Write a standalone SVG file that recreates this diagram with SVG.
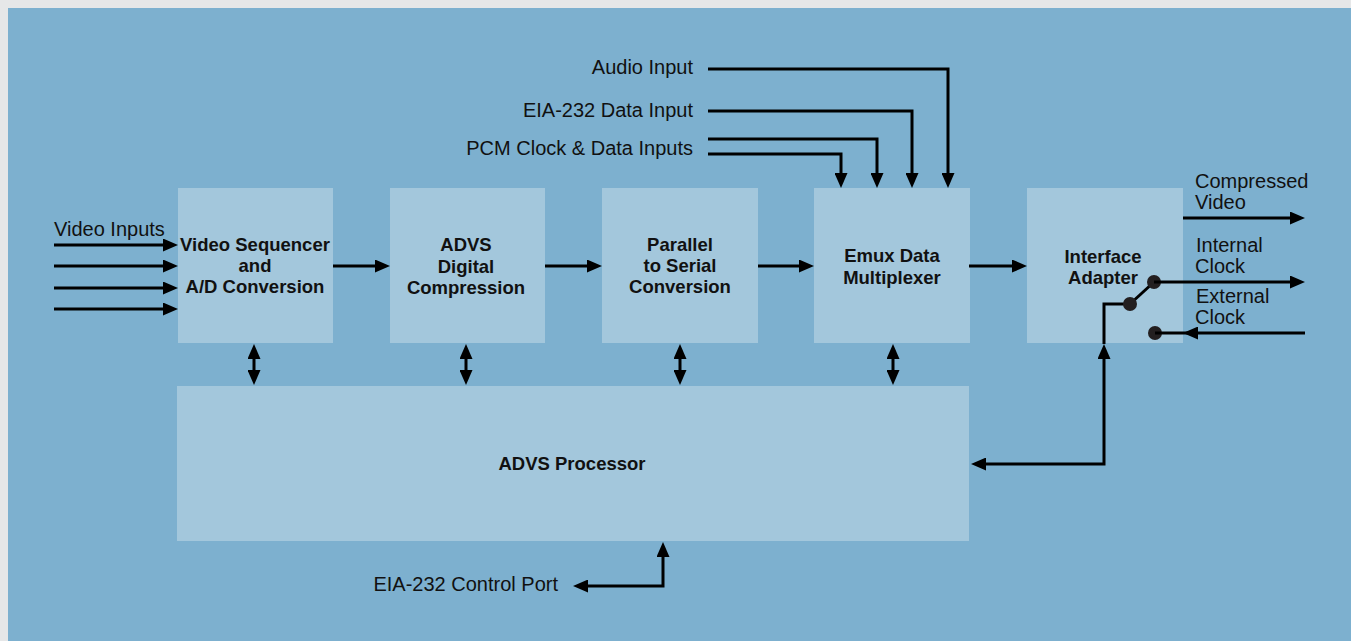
<svg xmlns="http://www.w3.org/2000/svg" width="1351" height="641" viewBox="0 0 1351 641">
<style>
.box{fill:#a3c7dc}
.lbl{font-family:"Liberation Sans",Arial,sans-serif;font-weight:bold;font-size:18.5px;fill:#111;text-anchor:middle}
.txt{font-family:"Liberation Sans",Arial,sans-serif;font-size:20px;fill:#111}
.end{text-anchor:end}
.ln{fill:none;stroke:#000;stroke-width:3}
.dot{fill:#231f20}
</style>
<defs>
<marker id="ah" viewBox="0 0 15 13" refX="6" refY="6.5" markerWidth="15" markerHeight="13" markerUnits="userSpaceOnUse" orient="auto-start-reverse">
<path d="M0,0 L15,6.5 L0,13 z" fill="#000"/>
</marker>
</defs>
<rect x="0" y="0" width="1351" height="641" fill="#e6e7e8"/>
<rect x="8" y="8" width="1343" height="633" fill="#7db0cf"/>

<g id="video-sequencer">
<rect class="box" x="178" y="188" width="155" height="155"/>
<text class="lbl" x="255" y="251">Video Sequencer</text>
<text class="lbl" x="255" y="272">and</text>
<text class="lbl" x="255" y="293">A/D Conversion</text>
</g>
<g id="advs-compression">
<rect class="box" x="390" y="188" width="155" height="155"/>
<text class="lbl" x="466" y="251">ADVS</text>
<text class="lbl" x="466" y="273">Digital</text>
<text class="lbl" x="466" y="294">Compression</text>
</g>
<g id="parallel-serial">
<rect class="box" x="602" y="188" width="156" height="155"/>
<text class="lbl" x="680" y="251">Parallel</text>
<text class="lbl" x="680" y="272">to Serial</text>
<text class="lbl" x="680" y="293">Conversion</text>
</g>
<g id="emux">
<rect class="box" x="814" y="188" width="156" height="155"/>
<text class="lbl" x="892" y="262">Emux Data</text>
<text class="lbl" x="892" y="284">Multiplexer</text>
</g>
<g id="interface-adapter">
<rect class="box" x="1027" y="188" width="156" height="155"/>
<text class="lbl" x="1103" y="263">Interface</text>
<text class="lbl" x="1103" y="284">Adapter</text>
<path class="ln" d="M1104,344 V304 H1130"/>
<line class="ln" x1="1130" y1="304" x2="1154" y2="282"/>
<circle class="dot" cx="1154" cy="282" r="7"/>
<circle class="dot" cx="1130" cy="304" r="7"/>
<circle class="dot" cx="1155" cy="333" r="7"/>
</g>
<g id="advs-processor">
<rect class="box" x="177" y="386" width="792" height="155"/>
<text class="lbl" x="572" y="470">ADVS Processor</text>
</g>

<g id="labels">
<text class="txt" x="54" y="236">Video Inputs</text>
<text class="txt end" x="693" y="74">Audio Input</text>
<text class="txt end" x="693" y="117">EIA-232 Data Input</text>
<text class="txt end" x="693" y="155">PCM Clock &amp; Data Inputs</text>
<text class="txt end" x="558" y="591">EIA-232 Control Port</text>
<text class="txt" x="1195" y="188">Compressed</text>
<text class="txt" x="1195" y="209">Video</text>
<text class="txt" x="1196" y="252">Internal</text>
<text class="txt" x="1195" y="273">Clock</text>
<text class="txt" x="1196" y="303">External</text>
<text class="txt" x="1195" y="324">Clock</text>
</g>

<g id="connectors">
<path class="ln" marker-end="url(#ah)" d="M54,245 H169"/>
<path class="ln" marker-end="url(#ah)" d="M54,266 H169"/>
<path class="ln" marker-end="url(#ah)" d="M54,288 H169"/>
<path class="ln" marker-end="url(#ah)" d="M54,309 H169"/>
<path class="ln" marker-end="url(#ah)" d="M333,266 H381"/>
<path class="ln" marker-end="url(#ah)" d="M545,266 H593"/>
<path class="ln" marker-end="url(#ah)" d="M758,266 H805"/>
<path class="ln" marker-end="url(#ah)" d="M969,266 H1018"/>
<path class="ln" marker-end="url(#ah)" d="M708,69 H948 V179"/>
<path class="ln" marker-end="url(#ah)" d="M708,111 H912 V179"/>
<path class="ln" marker-end="url(#ah)" d="M708,139 H877 V179"/>
<path class="ln" marker-end="url(#ah)" d="M708,154 H841 V179"/>
<path class="ln" marker-start="url(#ah)" marker-end="url(#ah)" d="M254,353 V376"/>
<path class="ln" marker-start="url(#ah)" marker-end="url(#ah)" d="M466,353 V376"/>
<path class="ln" marker-start="url(#ah)" marker-end="url(#ah)" d="M680,353 V376"/>
<path class="ln" marker-start="url(#ah)" marker-end="url(#ah)" d="M893,353 V376"/>
<path class="ln" marker-start="url(#ah)" marker-end="url(#ah)" d="M980,464 H1104 V353"/>
<path class="ln" marker-start="url(#ah)" marker-end="url(#ah)" d="M582,586 H663 V551"/>
<path class="ln" marker-end="url(#ah)" d="M1183,218 H1296"/>
<path class="ln" marker-end="url(#ah)" d="M1154,282 H1296"/>
<path class="ln" marker-end="url(#ah)" d="M1305,333 H1192"/>
<path class="ln" d="M1195,333 H1155"/>
</g>
</svg>
